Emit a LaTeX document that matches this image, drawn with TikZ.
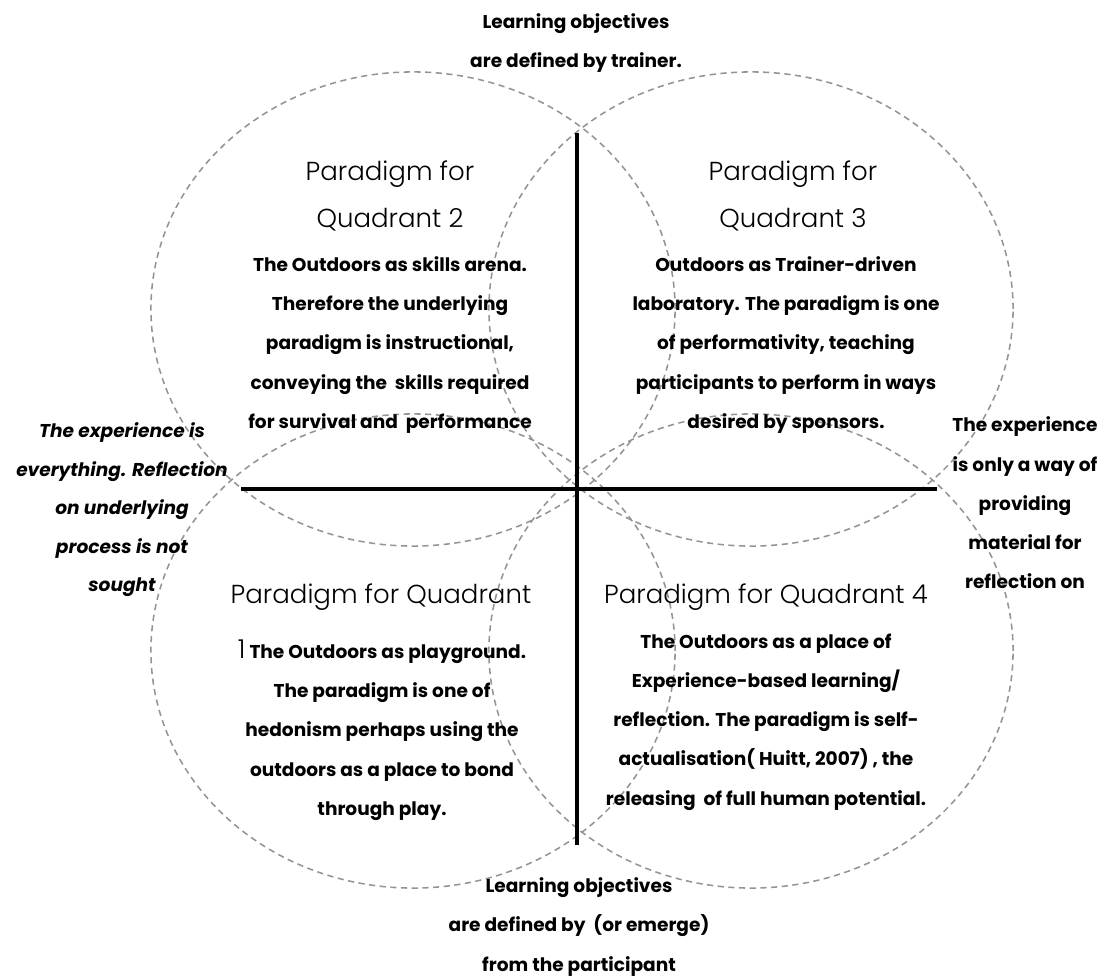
\documentclass[tikz,border=0pt]{standalone}
\usepackage{fontspec}
\setmainfont{Poppins}
\newfontfamily\headfont{Poppins Light}
\usetikzlibrary{positioning}

\tikzset{
  ring/.style={draw=black!42, line width=1.1pt, dash pattern=on 4.4pt off 3.2pt},
  axis/.style={draw=black, line width=2.6pt},
  body/.style={align=center, inner sep=0pt, font=\bfseries\fontsize{13.2}{27.9}\selectfont},
  side/.style={align=center, inner sep=0pt, font=\bfseries\itshape\fontsize{13.2}{27.4}\selectfont},
  head/.style={align=center, inner sep=0pt, font=\headfont\fontsize{18.5}{34}\selectfont}
}

\begin{document}
\begin{tikzpicture}[x=0.025cm, y=-0.025cm]
	\useasboundingbox (0, 0) rectangle (1110, 977);
	% Rings:
	\draw[ring] (413, 309) ellipse [x radius=6.55cm, y radius=5.925cm];
	\draw[ring] (751, 309) ellipse [x radius=6.55cm, y radius=5.925cm];
	\draw[ring] (413, 651) ellipse [x radius=6.55cm, y radius=5.925cm];
	\draw[ring] (751, 651) ellipse [x radius=6.55cm, y radius=5.925cm];
	% Axes:
	\coordinate (top) at (577, 133);
	\coordinate (bottom) at (577, 845);
	\coordinate (left) at (241, 489);
	\coordinate (right) at (937, 489);
	\draw[axis] (top) -- (bottom);
	\draw[axis] (left) -- (right);
	% Texts:
	\node[body] (trainer) at (576, 43) {Learning objectives\\are defined by trainer.};
	\node[body] (participant) at (579, 927) {Learning objectives\\are defined by\ \ (or emerge)\\from the participant};
	\node[side] (everything) at (122, 510) {The experience is\\everything. Reflection\\on underlying\\process is not\\sought};
	\node[body] (material) at (1025, 503) {The experience\\is only a way of\\providing\\material for\\reflection on};
	\node[head] (qtwohead) at (390, 196) {Paradigm for\\Quadrant 2};
	\node[body] (qtwo) at (390, 345) {The Outdoors as skills arena.\\Therefore the underlying\\paradigm is instructional,\\conveying the\ \ skills required\\for survival and\ \ performance};
	\node[head] (qthreehead) at (793, 196) {Paradigm for\\Quadrant 3};
	\node[body] (qthree) at (786, 345) {Outdoors as Trainer-driven\\laboratory. The paradigm is one\\of performativity, teaching\\participants to perform in ways\\desired by sponsors.};
	\node[head] (qonehead) at (381, 597) {Paradigm for Quadrant};
	\node[body] (qone) at (382, 730) {{\headfont\mdseries\fontsize{18.5}{27.9}\selectfont 1} The Outdoors as playground.\\The paradigm is one of\\hedonism perhaps using the\\outdoors as a place to bond\\through play.};
	\node[head] (qfourhead) at (766, 597) {Paradigm for Quadrant 4};
	\node[body] (qfour) at (766, 722) {The Outdoors as a place of\\Experience-based learning/\\reflection. The paradigm is self-\\actualisation( Huitt, 2007) , the\\releasing\ \ of full human potential.};
\end{tikzpicture}
\end{document}
